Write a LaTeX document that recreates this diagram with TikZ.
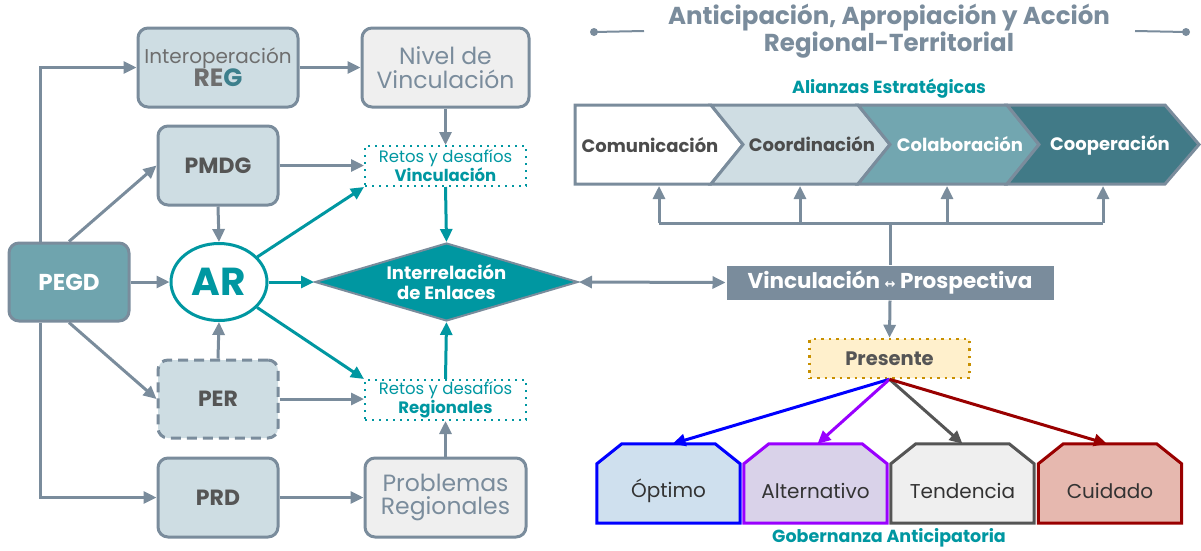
\documentclass[tikz,border=0pt]{standalone}
\usepackage{fontspec}
\setmainfont{Poppins}
\newfontfamily\symfont{DejaVu Sans}
\usetikzlibrary{arrows.meta,shapes.geometric,calc}

\definecolor{slate}{HTML}{7A8C9C}
\definecolor{boxfill}{HTML}{CEDDE3}
\definecolor{greyfill}{HTML}{EFEFEF}
\definecolor{pegdfill}{HTML}{6FA4AE}
\definecolor{tealc}{HTML}{0097A1}
\definecolor{darktext}{HTML}{555555}
\definecolor{regteal}{HTML}{3D7F8C}
\definecolor{chevB}{HTML}{CFDDE3}
\definecolor{chevC}{HTML}{72A6B0}
\definecolor{chevD}{HTML}{417A87}
\definecolor{presfill}{HTML}{FFF0CC}
\definecolor{presline}{HTML}{C89000}
\definecolor{optline}{HTML}{0000FF}
\definecolor{optfill}{HTML}{CFE0EE}
\definecolor{altline}{HTML}{9900FF}
\definecolor{altfill}{HTML}{D9D2E9}
\definecolor{tenline}{HTML}{555555}
\definecolor{tenfill}{HTML}{EFEFEF}
\definecolor{cuiline}{HTML}{990000}
\definecolor{cuifill}{HTML}{E6B8AF}

\tikzset{
  tip/.style={-{Triangle[length=13pt,width=12pt]}},
  conn/.style={draw=slate, line width=3pt, tip},
  tconn/.style={draw=tealc, line width=3pt, tip},
  plain/.style={draw=slate, line width=3pt},
  box/.style={rounded corners=10pt, draw=slate, line width=3pt, inner sep=0pt,
    align=center, minimum width=120pt, minimum height=79pt},
  bluebox/.style={box, fill=boxfill, font=\bfseries\fontsize{22}{26}\selectfont, text=darktext},
  greybox/.style={box, fill=greyfill, font=\fontsize{23.5}{23.5}\selectfont, text=slate},
  retos/.style={draw=tealc, line width=2pt, dash pattern=on 2pt off 5pt, inner sep=0pt,
    minimum width=161pt, minimum height=40pt, align=center, text=tealc,
    font=\fontsize{16.5}{17}\selectfont},
  chevlabel/.style={font=\bfseries\fontsize{18}{20}\selectfont},
  scenarea/.style={minimum width=143pt, minimum height=79pt, inner sep=0pt},
  scenframe/.style={line width=3pt, line join=miter},
  scenlabel/.style={font=\fontsize{20}{22}\selectfont, text=black!80},
}

\begin{document}
\begin{tikzpicture}[x=1pt,y=-1pt]
\useasboundingbox (0,0) rectangle (1201,550);

% ---------- title ----------
\node[font=\bfseries\fontsize{24.5}{24}\selectfont, text=slate, align=center] (title) at (889,31)
  {Anticipación, Apropiación y Acción\\Regional-Territorial};
\coordinate (tl1) at (594,32);
\coordinate (tl2) at (644,31);
\coordinate (tr1) at (1135,31);
\coordinate (tr2) at (1186,32);
\draw[slate, line width=2pt] (tl1) -- (tl2) (tr1) -- (tr2);
\fill[slate] (tl1) circle (4pt) (tr2) circle (4pt);

% ---------- left block ----------
\node[bluebox, minimum width=160pt, font=\fontsize{20}{23}\selectfont, text=darktext!85] (reg) at (218,67.5)
  {Interoperación\\{\bfseries\fontsize{25}{26}\selectfont RE{\color{regteal}G}}};
\node[greybox, minimum width=167pt] (nivel) at (445.5,67.5) {Nivel de\\Vinculación};
\node[bluebox] (pmdg) at (218,165.5) {PMDG};
\node[retos] (rv) at (445.5,166) {Retos y desafíos\\{\bfseries Vinculación}};
\node[box, fill=pegdfill, text=white, font=\bfseries\fontsize{23}{26}\selectfont, minimum height=78pt] (pegd) at (69,282) {PEGD};
\node[ellipse, draw=tealc, line width=3pt, fill=white, minimum width=96pt, minimum height=77pt,
  inner sep=0pt, text=tealc, font=\bfseries\fontsize{39}{40}\selectfont] (ar) at (219,282) {AR};
% diamond drawn empty so its size stays fixed, text set on top
\node[diamond, draw=slate, line width=2pt, fill=tealc, minimum width=263pt, minimum height=78pt,
  inner sep=0pt] (dia) at (446.5,282) {};
\node[text=white, align=center, font=\bfseries\fontsize{18}{20}\selectfont] (dial) at (dia.center)
  {Interrelación\\de Enlaces};
\node[retos] (rr) at (445.5,400) {Retos y desafíos\\{\bfseries Regionales}};
\node[bluebox, dash pattern=on 10pt off 6pt, minimum height=78pt] (per) at (218,399) {PER};
\node[bluebox] (prd) at (218,497.5) {PRD};
\node[greybox, minimum width=161pt] (prob) at (445.5,497.5) {Problemas\\Regionales};

% left connectors
\draw[conn] ([xshift=-29pt]pegd.north) |- (reg.west);
\draw[conn] ([xshift=-29pt]pegd.south) |- (prd.west);
\draw[conn] (pegd.north) -- (pmdg.west);
\draw[conn] (pegd.south) -- (per.west);
\draw[conn] (pegd.east) -- (ar.west);
\draw[conn] (reg.east) -- (nivel.west);
\draw[conn] (nivel.south) -- (rv.north);
\draw[conn] (pmdg.east) -- (pmdg.east -| rv.west);
\draw[conn] (pmdg.south) -- (ar.north);
\draw[conn] (per.north) -- (ar.south);
\draw[conn] (per.east) -- (per.east -| rr.west);
\draw[conn] (prd.east) -- (prob.west);
\draw[conn] (prob.north) -- (rr.south);
\draw[tconn] (ar) -- (rv.south west);
\draw[tconn] (ar) -- (rr.north west);
\draw[tconn] (ar.east) -- (dia.west);
\draw[tconn] (rv.south) -- (dia.north);
\draw[tconn] (rr.north) -- (dia.south);

% ---------- right block ----------
\node[font=\bfseries\fontsize{17.5}{20}\selectfont, text=tealc] (ali) at (889,89) {Alianzas Estratégicas};

% chevron band
\begin{scope}[draw=slate, line width=3pt, line join=miter]
  \filldraw[fill=white] (575,105) -- (711,105) -- (743,144.5) -- (711,184) -- (575,184) -- cycle;
  \filldraw[fill=chevB] (711,105) -- (858,105) -- (890,144.5) -- (858,184) -- (711,184) -- (743,144.5) -- cycle;
  \filldraw[fill=chevC] (858,105) -- (1007,105) -- (1039,144.5) -- (1007,184) -- (858,184) -- (890,144.5) -- cycle;
  \filldraw[fill=chevD] (1007,105) -- (1165,105) -- (1199,144.5) -- (1165,184) -- (1007,184) -- (1039,144.5) -- cycle;
\end{scope}
\node[chevlabel, text=darktext!90!black] (c1) at (650,145) {Comunicación};
\node[chevlabel, text=darktext!90!black] (c2) at (812,144) {Coordinación};
\node[chevlabel, text=white] (c3) at (960,144) {Colaboración};
\node[chevlabel, text=white] (c4) at (1110,145) {Cooperación};

\node[fill=slate, draw=white, line width=1pt, minimum width=328pt, minimum height=35pt, inner sep=0pt,
  text=white, font=\bfseries\fontsize{21.5}{22}\selectfont] (vp) at (890,282.5)
  {Vinculación {\symfont\fontsize{13}{14}\selectfont ↔} Prospectiva};

\coordinate (b1) at (659,186);
\coordinate (b2) at (800,186);
\coordinate (b3) at (947,186);
\coordinate (b4) at (1103,186);
\coordinate (hub) at (890,223);
\draw[plain] (vp.north) -- (hub);
\draw[plain] (b1 |- hub) -- (b4 |- hub);
\draw[conn] (b1 |- hub) -- (b1);
\draw[conn] (b2 |- hub) -- (b2);
\draw[conn] (b3 |- hub) -- (b3);
\draw[conn] (b4 |- hub) -- (b4);

\draw[draw=slate, line width=3pt, {Triangle[length=13pt,width=12pt]}-{Triangle[length=13pt,width=12pt]}]
  (dia.east) -- (vp.west);

\node[fill=presfill, draw=presline, line width=2.5pt, dash pattern=on 2.5pt off 5pt,
  minimum width=160pt, minimum height=39pt, inner sep=0pt, text=darktext,
  font=\bfseries\fontsize{19.5}{20}\selectfont] (pres) at (889.5,358.5) {Presente};
\draw[conn] (vp.south) -- (pres.north);

% scenario boxes with chamfered top corners
\node[scenarea] (opt) at (668.5,483.5) {};
\node[scenarea] (alt) at (815.5,483.5) {};
\node[scenarea] (ten) at (962.5,483.5) {};
\node[scenarea] (cui) at (1110,483.5) {};
\foreach \nm/\ln/\fl in {opt/optline/optfill, alt/altline/altfill, ten/tenline/tenfill, cui/cuiline/cuifill}{
  \filldraw[scenframe, draw=\ln, fill=\fl]
    (\nm.south west) -- ($(\nm.north west)+(0,20)$) -- ($(\nm.north west)+(25,0)$)
    -- ($(\nm.north east)+(-25,0)$) -- ($(\nm.north east)+(0,20)$) -- (\nm.south east) -- cycle;
}
\node[scenlabel] (optl) at (668.5,491) {Óptimo};
\node[scenlabel] (altl) at (815.5,491) {Alternativo};
\node[scenlabel] (tenl) at (962.5,491) {Tendencia};
\node[scenlabel] (cuil) at (1110,491) {Cuidado};

\draw[line width=3pt, optline, tip] (pres.south) -- ([xshift=4pt]opt.north);
\draw[line width=3pt, altline, tip] (pres.south) -- ([xshift=2pt]alt.north);
\draw[line width=3pt, tenline, tip] (pres.south) -- (ten.north);
\draw[line width=3pt, cuiline, tip] (pres.south) -- ([xshift=-3pt]cui.north);

\node[font=\bfseries\fontsize{17.5}{20}\selectfont, text=tealc] (gob) at (889,538) {Gobernanza Anticipatoria};
\end{tikzpicture}
\end{document}
